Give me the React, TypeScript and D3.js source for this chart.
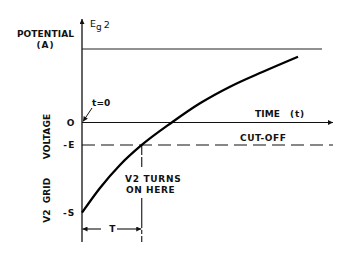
import React from "react";
import * as d3 from "d3";

// Time in arbitrary units, voltage in units of A
const curveT = [0, 7.2, 15.2, 23.9, 35.9, 47.2, 59.2, 72.4, 86.4];
const curveV = [-1.227, -0.891, -0.578, -0.306, 0.0, 0.261, 0.487, 0.691, 0.895];
const levelNames = ["O", "-E", "-S"];
const levelValues = [0, -0.306, -1.227];
const yTitleWords = ["VOLTAGE", "GRID", "V2"];
const yTitleCenters = [136.5, 190.5, 216];
const potentialA = 1;
const turnOnT = 23.9;
const tMaxAxis = 100.4;
const tMaxPotential = 96;

const W = 343;
const H = 254;

export default function App() {
  const x = d3.scaleLinear().domain([0, 100]).range([82, 332]);
  const y = d3.scaleLinear().domain([0, 1]).range([122.5, 49]);
  const pts: [number, number][] = curveT.map((t, i) => [t, curveV[i]]);
  const line = d3
    .line<[number, number]>()
    .x((d) => x(d[0]))
    .y((d) => y(d[1]))
    .curve(d3.curveMonotoneX);

  const font = "'DejaVu Sans', sans-serif";
  const ts = { fontFamily: font, fontWeight: 700, fontSize: 9, fill: "#111", letterSpacing: 0.1 } as const;
  const x0 = x(0);
  const xOn = x(turnOnT);
  const yE = y(levelValues[1]);
  const yZero = y(0);
  const bottom = 242;
  const yT = 229;

  return (
    <svg width={W} height={H} style={{ position: "absolute", left: 0, top: 0, background: "#fff" }}>
      <defs>
        <marker id="ah" viewBox="0 0 10 10" refX="10" refY="5" markerWidth="7" markerHeight="5" orient="auto-start-reverse" markerUnits="userSpaceOnUse">
          <path d="M0,0 L10,5 L0,10 z" fill="#111" />
        </marker>
      </defs>
      {/* y axis */}
      <line x1={x0} y1={bottom} x2={x0} y2={19} stroke="#111" strokeWidth={1.3} markerEnd="url(#ah)" />
      {/* potential line */}
      <line x1={x0} y1={y(potentialA)} x2={x(tMaxPotential)} y2={y(potentialA)} stroke="#222" strokeWidth={1.1} />
      {/* time axis */}
      <line x1={x0} y1={yZero} x2={x(tMaxAxis)} y2={yZero} stroke="#111" strokeWidth={1.2} markerEnd="url(#ah)" />
      {/* cut-off dashed */}
      <line x1={x0} y1={yE} x2={x(tMaxAxis)} y2={yE} stroke="#111" strokeWidth={1.1} strokeDasharray="13 6" />
      {/* turn-on vertical line, broken by the label */}
      <line x1={xOn} y1={yE} x2={xOn} y2={169} stroke="#111" strokeWidth={1.1} strokeDasharray="10 2" />
      <line x1={xOn} y1={198} x2={xOn} y2={bottom} stroke="#111" strokeWidth={1.1} strokeDasharray="30 2 4 2" />
      {/* curve */}
      <path d={line(pts) || ""} fill="none" stroke="#000" strokeWidth={2.3} />
      {/* T arrow */}
      <line x1={101} y1={yT} x2={x0 + 0.5} y2={yT} stroke="#111" strokeWidth={1.1} markerEnd="url(#ah)" />
      <line x1={117} y1={yT} x2={xOn - 0.5} y2={yT} stroke="#111" strokeWidth={1.1} markerEnd="url(#ah)" />
      <text x={(x0 + xOn) / 2 + 0.5} y={yT + 3.3} textAnchor="middle" style={ts}>T</text>
      {/* t=0 arrow */}
      <line x1={92} y1={108} x2={x0 + 1} y2={yZero - 1} stroke="#111" strokeWidth={1} markerEnd="url(#ah)" />
      <text x={92} y={105.7} style={ts}>t=0</text>
      {/* level labels */}
      {levelNames.map((n, i) => (
        <text key={n} x={75.5} y={y(levelValues[i]) + 3.3} textAnchor="end" style={{ ...ts, letterSpacing: 1.2 }}>{n}</text>
      ))}
      {/* titles */}
      <text x={45.5} y={37.3} textAnchor="middle" style={ts}>POTENTIAL</text>
      <text x={45.5} y={48} textAnchor="middle" style={{ ...ts, letterSpacing: 1 }}>(A)</text>
      <text x={90} y={27.3} style={{ ...ts, fontWeight: 400, fontSize: 9.5, letterSpacing: 0 }}>
        E<tspan dy={2.5} fontSize={9}>g</tspan><tspan dy={-2} dx={2}>2</tspan>
      </text>
      <text x={255} y={117.3} style={ts}>TIME</text>
      <text x={290} y={117.3} style={{ ...ts, letterSpacing: 0.8 }}>(t)</text>
      <text x={240} y={141.3} style={{ ...ts, letterSpacing: 0.6 }}>CUT-OFF</text>
      <text x={125} y={182.3} style={{ ...ts, letterSpacing: 0.7 }}>V2 TURNS</text>
      <text x={126} y={193.3} style={{ ...ts, letterSpacing: 0.6 }}>ON HERE</text>
      {yTitleWords.map((w, i) => (
        <text
          key={w}
          transform={`translate(49.5, ${yTitleCenters[i]}) rotate(-90)`}
          textAnchor="middle"
          style={ts}
        >
          {w}
        </text>
      ))}
    </svg>
  );
}
